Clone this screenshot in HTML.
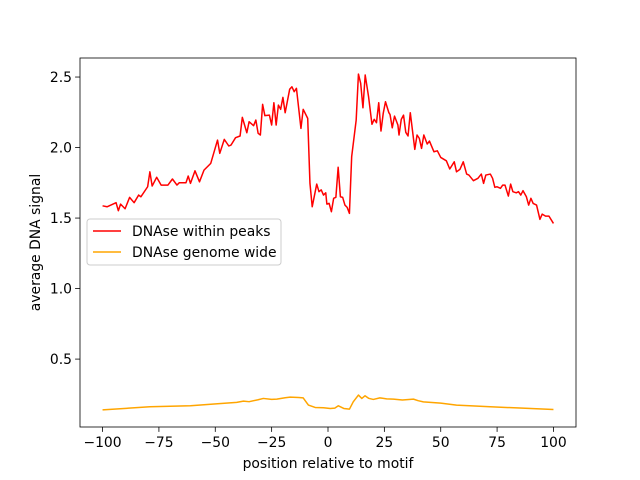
<!DOCTYPE html>
<html><head><meta charset="utf-8"><style>
html,body{margin:0;padding:0;background:#fff;}
svg{display:block;font-family:"DejaVu Sans","Liberation Sans",sans-serif;}
</style></head><body>
<svg id="chart" width="640" height="480" viewBox="0 0 640 480" xmlns="http://www.w3.org/2000/svg">
<rect x="0" y="0" width="640" height="480" fill="#fff"/>
<g id="plot"></g>
<g id="axes"></g>
<text x="328" y="468" font-size="13.9" text-anchor="middle">position relative to motif</text>
<text transform="translate(40,242.5) rotate(-90)" font-size="13.9" text-anchor="middle">average DNA signal</text>
<g>
<rect x="87" y="219" width="194" height="46" rx="3" fill="#fff" fill-opacity="0.8" stroke="#ccc"/>
<line x1="93" y1="231" x2="121" y2="231" stroke="red" stroke-width="1.5"/>
<text x="132" y="236" font-size="13.9">DNAse within peaks</text>
<line x1="93" y1="252" x2="121" y2="252" stroke="orange" stroke-width="1.5"/>
<text x="132" y="257" font-size="13.9">DNAse genome wide</text>
</g>
</svg>
<script>
const peakPos=[-100,-98,-94,-93,-92,-90,-88,-86,-84,-83,-80,-79,-78,-76,-74,-71,-69,-67,-66,-63,-62,-61,-59,-57,-55,-52,-49,-48,-46,-44,-43,-41,-39,-38,-36,-35,-33,-32,-31,-30,-29,-28,-26,-25,-24,-23,-22,-21,-20,-19,-17,-16,-15,-14,-12,-11,-9,-8,-7,-5,-4,-3,-2,-1,-0.5,0.5,1.5,2.5,3.5,4.5,5.5,6.5,7.5,8.5,9.5,10.5,12.5,13.5,14.5,15.5,16.5,18,19.5,20.5,21.5,22.5,23.5,24.5,25.5,27,27.5,28.5,29.5,31,31.5,32.5,33.5,34.5,35.5,36.5,38.5,39.5,40.5,41.5,42.5,44,45,47,48.5,50,52.5,54,56,57,58.5,60,61.5,62.5,64.5,66.5,68,69,70,72,73,74,75,76.5,77.5,78.5,80,81,82,83.5,84.5,85.5,86.5,88,89,90,91,92.5,94,95,96.5,98,100];
const peakVal=[1.587,1.58,1.609,1.552,1.599,1.566,1.647,1.609,1.663,1.651,1.722,1.828,1.727,1.789,1.734,1.734,1.777,1.734,1.75,1.75,1.798,1.746,1.835,1.757,1.84,1.888,2.053,1.959,2.058,2.011,2.018,2.07,2.082,2.214,2.105,2.183,2.155,2.195,2.101,2.089,2.306,2.226,2.23,2.16,2.318,2.16,2.301,2.271,2.356,2.247,2.413,2.431,2.396,2.42,2.136,2.271,2.207,1.746,1.58,1.741,1.687,1.70,1.663,1.679,1.599,1.604,1.545,1.64,1.647,1.86,1.651,1.647,1.592,1.576,1.533,1.935,2.195,2.521,2.455,2.282,2.514,2.36,2.165,2.2,2.176,2.318,2.117,2.243,2.325,2.247,2.235,2.14,2.223,2.16,2.089,2.2,2.23,2.108,2.082,2.247,1.987,2.089,2.065,1.994,2.089,2.025,2.046,1.97,1.977,1.93,1.906,1.848,1.899,1.828,1.845,1.899,1.812,1.805,1.765,1.782,1.812,1.746,1.805,1.812,1.782,1.718,1.722,1.711,1.734,1.734,1.656,1.741,1.687,1.679,1.687,1.663,1.694,1.651,1.592,1.64,1.604,1.592,1.491,1.528,1.514,1.514,1.462];
const genPos=[-100,-79,-61,-49,-40.5,-37.5,-35,-31,-28.7,-25,-22.7,-19,-16.8,-13,-11,-8.7,-5.7,-2,1,3,4.6,7,9.5,11.2,13.5,15,16.4,18,20.1,23,26,29,33,37.9,40,42.3,50,57,64,71.9,85,100];
const genVal=[0.140,0.162,0.169,0.183,0.193,0.202,0.198,0.212,0.221,0.214,0.216,0.226,0.230,0.228,0.225,0.174,0.157,0.155,0.150,0.152,0.169,0.150,0.145,0.197,0.245,0.221,0.240,0.222,0.214,0.225,0.218,0.216,0.210,0.216,0.205,0.197,0.188,0.174,0.168,0.162,0.153,0.143];
const xTicks=[-100,-75,-50,-25,0,25,50,75,100];
const yTicks=[0.5,1.0,1.5,2.0,2.5];
const L=80,R=576,T=58,B=427,xMin=-110,xMax=110,yMin=0.0185,yMax=2.635;
const xs=v=>L+(v-xMin)/(xMax-xMin)*(R-L);
const ys=v=>B-(v-yMin)/(yMax-yMin)*(B-T);
const NS="http://www.w3.org/2000/svg";
const plot=document.getElementById('plot'),axes=document.getElementById('axes');
function mk(tag,attrs,parent){const e=document.createElementNS(NS,tag);for(const k in attrs)e.setAttribute(k,attrs[k]);parent.appendChild(e);return e;}
function line(pos,val,color,name){
  const d=pos.map((p,i)=>(i?'L':'M')+xs(p).toFixed(2)+','+ys(val[i]).toFixed(2)).join('');
  const el=mk('path',{d:d,fill:'none',stroke:color,'stroke-width':1.5,'stroke-linejoin':'round'},plot);
  
  
}
line(genPos,genVal,'orange','line-genome-wide');
line(peakPos,peakVal,'red','line-within-peaks');
const frame=mk('rect',{x:L,y:T,width:R-L,height:B-T,fill:'none',stroke:'#000','stroke-width':0.8},axes);


xTicks.forEach(t=>{
  const x=xs(t);
  const tk=mk('line',{x1:x,x2:x,y1:B,y2:B+4.9,stroke:'#000','stroke-width':0.8},axes);
  
  
  const tx=mk('text',{x:x,y:B+20,'font-size':13.9,'text-anchor':'middle'},axes);
  tx.textContent=(t<0?'\u2212'+(-t):t);
  
  
});
yTicks.forEach(t=>{
  const y=ys(t);
  const tk=mk('line',{x1:L-4.9,x2:L,y1:y,y2:y,stroke:'#000','stroke-width':0.8},axes);
  
  
  const tx=mk('text',{x:L-8,y:y+5,'font-size':13.9,'text-anchor':'end'},axes);
  tx.textContent=t.toFixed(1);
  
  
});
</script>
</body></html>
